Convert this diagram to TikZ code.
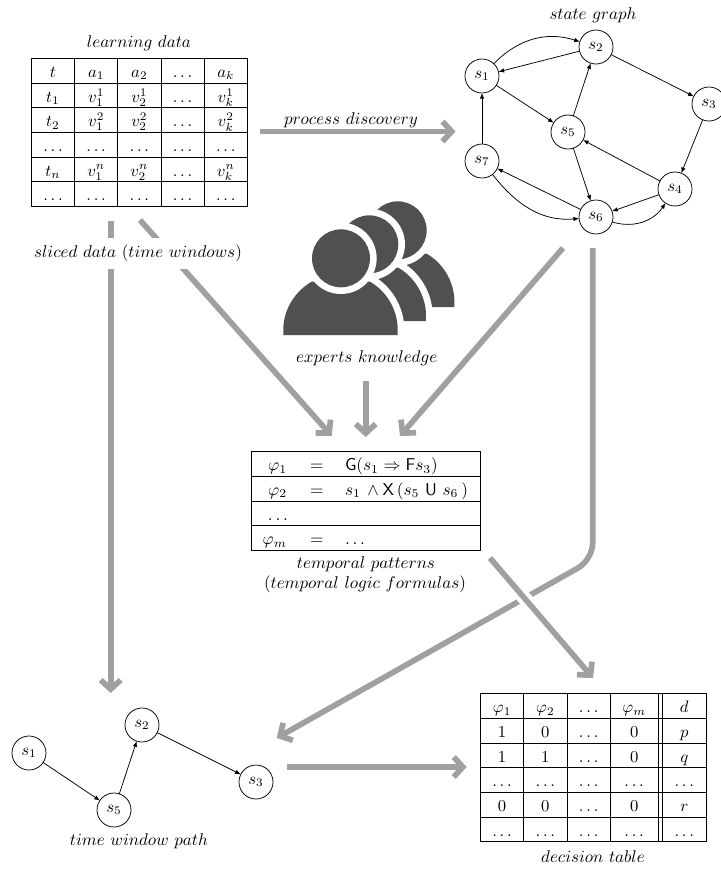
\documentclass[tikz,border=0pt]{standalone}
\usetikzlibrary{matrix,arrows.meta,positioning}
\definecolor{flow}{HTML}{A0A0A0}
\definecolor{crowd}{HTML}{505050}
\tikzset{
  thin line/.style={line width=0.45pt,black},
  state/.style={circle,draw,line width=0.45pt,minimum size=20.4pt,inner sep=0pt,outer sep=0pt,fill=white},
  link/.style={line width=0.45pt,-{Latex[length=3.4pt,width=2.7pt]}},
  bigarrow/.style={draw=flow,line width=3.4pt,-{Straight Barb[length=5.5pt,width=12pt,line width=3.4pt]}},
  caption/.style={inner sep=0pt,outer sep=0pt,scale=1.02},
  datatable/.style={matrix of math nodes,nodes in empty cells,inner sep=0pt,outer sep=0pt,
    column sep=-0.45pt,row sep=-0.45pt,
    nodes={draw,line width=0.45pt,inner xsep=0pt,inner ysep=0pt,outer sep=0pt,
      text height=11.4pt,text depth=3.4pt,minimum width=#1,anchor=center}},
  frow/.style={draw,line width=0.45pt,minimum width=137.6pt,minimum height=14.8pt,inner sep=0pt,outer sep=0pt,anchor=north west},
  fterm/.style={inner sep=0pt,outer sep=0pt,scale=1.03},
}
\newcommand{\personshape}{(40,435) -- (40,410) .. controls (45,340) and (90,295) .. (125,275) -- (300,275) .. controls (335,295) and (378,340) .. (383,410) -- (383,435) -- cycle}
\newcommand{\drawperson}[2]{%
  \begin{scope}[shift={(270+#1,190+#2)},x=0.2pt,y=-0.2pt]
    \draw[white,line width=8pt] \personshape;
    \fill[crowd] \personshape;
    \fill[white] (213,205) circle[radius=107];
    \fill[crowd] (213,205) circle[radius=87];
  \end{scope}}
\begin{document}
\begin{tikzpicture}[x=0.6pt,y=-0.6pt]
\useasboundingbox (0,0) rectangle (721,869);

% learning data table
\matrix[datatable=25.92pt,anchor=north west] (ld) at (31,58) {
  t & a_1 & a_2 & \dots & a_k \\
  t_1 & v_1^1 & v_2^1 & \dots & v_k^1 \\
  t_2 & v_1^2 & v_2^2 & \dots & v_k^2 \\
  \dots & \dots & \dots & \dots & \dots \\
  t_n & v_1^n & v_2^n & \dots & v_k^n \\
  \dots & \dots & \dots & \dots & \dots \\
};
\node[caption] (ldcap) at (139,43) {$learning\ data$};

% state graph
\node[state] (s1) at (482,76) {$s_1$};
\node[state] (s2) at (596,47) {$s_2$};
\node[state] (s3) at (709,104) {$s_3$};
\node[state] (s4) at (675,189) {$s_4$};
\node[state] (s5) at (568,132) {$s_5$};
\node[state] (s6) at (596,217) {$s_6$};
\node[state] (s7) at (482,161) {$s_7$};
\node[caption] (sgcap) at (593,15) {$state\ graph$};
\draw[link] (s1) to[out=46,in=162] (s2);
\draw[link] (s2) -- (s1);
\draw[link] (s2) -- (s3);
\draw[link] (s3) -- (s4);
\draw[link] (s4) -- (s5);
\draw[link] (s4) -- (s6);
\draw[link] (s6) to[out=-17,in=236] (s4);
\draw[link] (s5) -- (s2);
\draw[link] (s5) -- (s6);
\draw[link] (s1) -- (s5);
\draw[link] (s7) -- (s1);
\draw[link] (s6) -- (s7);
\draw[link] (s7) to[out=-52,in=185] (s6);

% big arrows
\coordinate (pdA) at (260,131.5); \coordinate (pdB) at (455.5,131.5);
\coordinate (slA) at (110.7,221); \coordinate (slB) at (110.7,693);
\coordinate (diA) at (140,220); \coordinate (diB) at (331.7,436);
\coordinate (exA) at (365.7,381); \coordinate (exB) at (365.7,437);
\coordinate (grA) at (563,248); \coordinate (grB) at (400,436);
\coordinate (loA) at (592.7,248); \coordinate (loC) at (592.7,559.7); \coordinate (loB) at (276.7,738);
\coordinate (tpA) at (490,558); \coordinate (tpB) at (593,678);
\coordinate (wpA) at (287,767); \coordinate (wpB) at (466.7,767);
\draw[bigarrow] (pdA) -- (pdB);
\draw[bigarrow] (slA) -- (slB);
\draw[bigarrow] (diA) -- (diB);
\draw[bigarrow] (exA) -- (exB);
\draw[bigarrow] (grA) -- (grB);
\draw[bigarrow,rounded corners=10pt] (loA) -- (loC) -- (loB);
\draw[white,line width=8.5pt] (tpA) -- (tpB);
\draw[bigarrow] (tpA) -- (tpB);
\draw[bigarrow] (wpA) -- (wpB);

\node[caption] (pdcap) at (351,120) {$process\ discovery$};
\node[caption,fill=white,inner ysep=4pt,inner xsep=2pt] (slcap) at (138,253.7) {$sliced\ data\ (time\ windows)$};

% experts
\drawperson{56.7}{-28}
\drawperson{28.3}{-14}
\drawperson{0}{0}
\node[caption] (excap) at (366.7,358) {$experts\ knowledge$};

% temporal formulas
\node[frow] (f1) at (251,451.7) {};
\node[frow] (f2) at (251,476.3) {};
\node[frow] (f3) at (251,501) {};
\node[frow] (f4) at (251,525.7) {};
\node[fterm,anchor=base east] (f1a) at (287,470.7) {$\varphi_1$};
\node[fterm,anchor=base] (f1b) at (316.7,470.7) {$=$};
\node[fterm,anchor=base west] (f1c) at (345,470.7) {$\mathsf{G}(s_1\Rightarrow\mathsf{F}s_3)$};
\node[fterm,anchor=base east] (f2a) at (287,495.3) {$\varphi_2$};
\node[fterm,anchor=base] (f2b) at (316.7,495.3) {$=$};
\node[fterm,anchor=base west] (f2c) at (345,495.3) {$s_1\,\wedge\mathsf{X}\,(s_5\,\,\mathsf{U}\,\,s_6\,)$};
\node[fterm,anchor=base east] (f3a) at (288,520) {$\dots$};
\node[fterm,anchor=base east] (f4a) at (287,544.7) {$\varphi_m$};
\node[fterm,anchor=base] (f4b) at (316.7,544.7) {$=$};
\node[fterm,anchor=base west] (f4c) at (345,544.7) {$\dots$};
\node[caption] (tpcap1) at (366,564) {$temporal\ patterns$};
\node[caption] (tpcap2) at (365,584) {$(temporal\ logic\ formulas)$};

% time window path
\node[state] (p1) at (29,753) {$s_1$};
\node[state] (p5) at (114,810) {$s_5$};
\node[state] (p2) at (142,725) {$s_2$};
\node[state] (p3) at (256,782) {$s_3$};
\draw[link] (p1) -- (p5);
\draw[link] (p5) -- (p2);
\draw[link] (p2) -- (p3);
\node[caption] (twcap) at (139,841) {$time\ window\ path$};

% decision table
\matrix[datatable=26pt,anchor=north west,column 4/.style={nodes={minimum width=28.56pt}}] (dt) at (480,693.3) {
  \varphi_1 & \varphi_2 & \dots & \varphi_m &[2.8pt] d \\
  1 & 0 & \dots & 0 & p \\
  1 & 1 & \dots & 0 & q \\
  \dots & \dots & \dots & \dots & \dots \\
  0 & 0 & \dots & 0 & r \\
  \dots & \dots & \dots & \dots & \dots \\
};
\foreach \r in {1,...,6} \draw[thin line] (dt-\r-4.north east) -- (dt-\r-5.north west);
\draw[thin line] (dt-6-4.south east) -- (dt-6-5.south west);
\node[caption] (dtcap) at (593,857) {$decision\ table$};
\end{tikzpicture}
\end{document}
